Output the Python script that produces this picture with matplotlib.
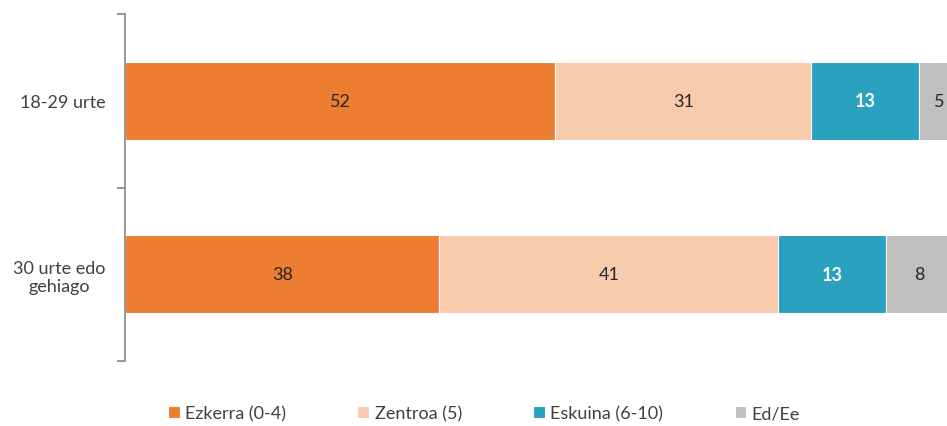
import matplotlib.pyplot as plt
import numpy as np

plt.rcParams['font.family'] = ['Lato', 'DejaVu Sans']

groups = ["18-29 urte", "30 urte edo\ngehiago"]
series = ["Ezkerra (0-4)", "Zentroa (5)", "Eskuina (6-10)", "Ed/Ee"]
values = [
    [52, 38],
    [31, 41],
    [13, 13],
    [5, 8],
]
colors = ["#ED7D31", "#F8CBAD", "#2AA1BF", "#BFBFBF"]
label_colors = ["#262626", "#262626", "white", "#262626"]
label_weights = ["normal", "normal", "bold", "normal"]

W, H = 947, 427
fig = plt.figure(figsize=(W / 100, H / 100), dpi=100)
ax = fig.add_axes([125 / W, 65 / H, 827 / W, 347 / H])

y = np.arange(len(groups))
left = np.zeros(len(groups))
for vals, name, c, lc, lw in zip(values, series, colors, label_colors, label_weights):
    vals = np.array(vals, dtype=float)
    bars = ax.barh(y, vals, left=left, height=0.45, color=c, label=name,
                   edgecolor="white", linewidth=0.8)
    for b, v in zip(bars, vals):
        ax.text(b.get_x() + b.get_width() / 2, b.get_y() + b.get_height() / 2,
                f"{v:.0f}", ha="center", va="center", color=lc,
                fontsize=13, fontweight=lw)
    left += vals

ax.set_xlim(0, 100)
ax.set_ylim(1.5, -0.5)
ax.set_yticks(y)
ax.set_yticklabels(groups, fontsize=13, color="#404040", multialignment="center")
ax.set_yticks([-0.5, 0.5, 1.5], minor=True)
ax.tick_params(axis="y", which="major", length=0, pad=14)
ax.tick_params(axis="y", which="minor", length=6, width=1.2, color="#868686")
ax.set_xticks([])
for s in ["top", "right", "bottom"]:
    ax.spines[s].set_visible(False)
ax.spines["left"].set_color("#868686")
ax.spines["left"].set_linewidth(1.2)

fig.legend(loc="center", bbox_to_anchor=(484 / W, 13 / H), ncol=4, frameon=False,
           fontsize=13, handlelength=0.65, handleheight=0.65, handletextpad=0.3,
           columnspacing=3.95, labelcolor="#404040")

fig.savefig("out.png", dpi=100)
